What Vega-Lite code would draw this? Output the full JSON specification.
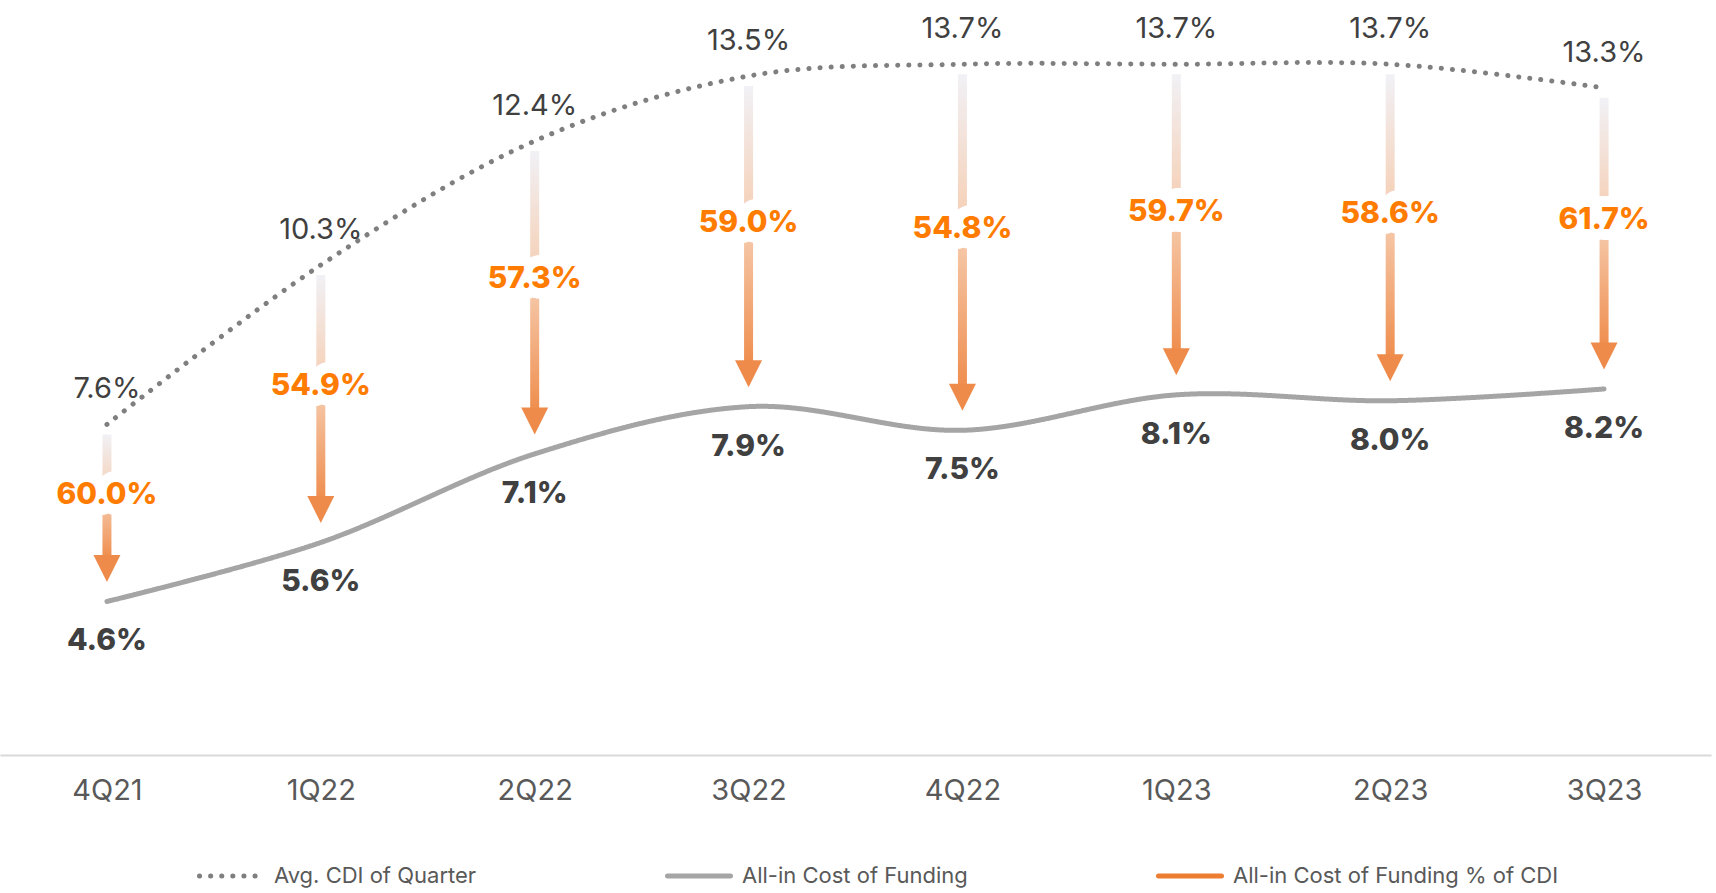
{
  "$schema": "https://vega.github.io/schema/vega-lite/v6.json",
  "width": 1711,
  "height": 738,
  "autosize": {"type": "none"},
  "padding": {"left": 0, "top": 17, "right": 5, "bottom": 138},
  "background": "white",
  "config": {"view": {"stroke": null}, "font": "Inter"},
  "data": {
    "values": [
      {"q": "4Q21", "cdi": 0.076, "cost": 0.046, "pct": 0.600},
      {"q": "1Q22", "cdi": 0.103, "cost": 0.056, "pct": 0.549},
      {"q": "2Q22", "cdi": 0.124, "cost": 0.071, "pct": 0.573},
      {"q": "3Q22", "cdi": 0.135, "cost": 0.079, "pct": 0.590},
      {"q": "4Q22", "cdi": 0.137, "cost": 0.075, "pct": 0.548},
      {"q": "1Q23", "cdi": 0.137, "cost": 0.081, "pct": 0.597},
      {"q": "2Q23", "cdi": 0.137, "cost": 0.080, "pct": 0.586},
      {"q": "3Q23", "cdi": 0.133, "cost": 0.082, "pct": 0.617}
    ]
  },
  "encoding": {
    "x": {
      "field": "q", "type": "ordinal", "sort": null,
      "scale": {"type": "point", "padding": 0.5},
      "axis": {
        "title": null, "labelAngle": 0, "ticks": false, "grid": false,
        "domainColor": "#D9D9D9", "domainWidth": 2,
        "labelFont": "Inter", "labelFontSize": 29, "labelColor": "#595959",
        "labelBaseline": "middle", "labelPadding": 35
      }
    }
  },
  "layer": [
    {
      "transform": [{"fold": ["cdi", "cost"], "as": ["k", "v"]}],
      "mark": {"type": "line", "interpolate": "cardinal", "strokeWidth": 5, "strokeCap": "round"},
      "encoding": {
        "y": {"field": "v", "type": "quantitative", "scale": {"domain": [0.02, 0.145], "nice": false, "zero": false}, "axis": null},
        "color": {
          "field": "k", "type": "nominal",
          "scale": {"domain": ["cdi", "cost", "pct"], "range": ["#7F7F7F", "#A5A5A5", "#ED7D31"]},
          "legend": {
            "orient": "none", "legendX": 197, "legendY": 825, "direction": "horizontal",
            "title": null, "symbolType": "stroke", "symbolSize": 3969, "symbolStrokeWidth": 5,
            "labelFont": "Inter", "labelFontSize": 22, "labelColor": "#595959", "labelLimit": 0,
            "labelOffset": 9, "columnPadding": 180, "padding": 0,
            "labelExpr": "datum.value == 'cdi' ? 'Avg. CDI of Quarter' : datum.value == 'cost' ? 'All-in Cost of Funding' : 'All-in Cost of Funding % of CDI'",
            "encode": {"symbols": {"update": {"strokeCap": {"value": "round"}}}}
          }
        },
        "strokeDash": {
          "field": "k", "type": "nominal",
          "scale": {"domain": ["cdi", "cost", "pct"], "range": [[0.1, 11], [1, 0], [1, 0]]},
          "legend": {
            "orient": "none", "legendX": 197, "legendY": 825, "direction": "horizontal",
            "title": null, "symbolType": "stroke", "symbolSize": 3969, "symbolStrokeWidth": 5,
            "labelFont": "Inter", "labelFontSize": 22, "labelColor": "#595959", "labelLimit": 0,
            "labelOffset": 9, "columnPadding": 180, "padding": 0,
            "labelExpr": "datum.value == 'cdi' ? 'Avg. CDI of Quarter' : datum.value == 'cost' ? 'All-in Cost of Funding' : 'All-in Cost of Funding % of CDI'",
            "encode": {"symbols": {"update": {"strokeCap": {"value": "round"}}}}
          }
        }
      }
    },
    {
      "mark": {
        "type": "bar", "width": 9, "yOffset": 10, "y2Offset": -44,
        "color": {
          "gradient": "linear", "x1": 0, "y1": 0, "x2": 0, "y2": 1,
          "stops": [
            {"offset": 0, "color": "#F1F1F6"},
            {"offset": 0.5, "color": "#F6CDB0"},
            {"offset": 1, "color": "#EF8E4F"}
          ]
        }
      },
      "encoding": {
        "y": {"field": "cdi", "type": "quantitative", "scale": {"domain": [0.02, 0.145], "nice": false, "zero": false}, "axis": null},
        "y2": {"field": "cost"}
      }
    },
    {
      "mark": {"type": "point", "shape": "M-1,-1L1,-1L0,1Z", "size": 729, "filled": true, "color": "#EE8B4A", "opacity": 1, "strokeWidth": 0, "yOffset": -33},
      "encoding": {
        "y": {"field": "cost", "type": "quantitative", "scale": {"domain": [0.02, 0.145], "nice": false, "zero": false}, "axis": null}
      }
    },
    {
      "mark": {"type": "text", "font": "Inter", "fontSize": 29, "fontWeight": 400, "color": "#404040", "baseline": "middle", "yOffset": -35},
      "encoding": {
        "y": {"field": "cdi", "type": "quantitative", "scale": {"domain": [0.02, 0.145], "nice": false, "zero": false}, "axis": null},
        "text": {"field": "cdi", "type": "quantitative", "format": ".1%"}
      }
    },
    {
      "mark": {"type": "text", "font": "Inter", "fontSize": 30, "fontWeight": 800, "color": "#404040", "baseline": "middle", "yOffset": 40},
      "encoding": {
        "y": {"field": "cost", "type": "quantitative", "scale": {"domain": [0.02, 0.145], "nice": false, "zero": false}, "axis": null},
        "text": {"field": "cost", "type": "quantitative", "format": ".1%"}
      }
    },
    {
      "transform": [{"fold": ["cdi", "cost"], "as": ["k", "v"]}],
      "mark": {"type": "text", "font": "Inter", "fontSize": 30, "fontWeight": 800, "fill": "white", "stroke": "white", "strokeWidth": 22, "strokeJoin": "round", "baseline": "middle", "yOffset": -18},
      "encoding": {
        "y": {"field": "v", "aggregate": "mean", "type": "quantitative", "scale": {"domain": [0.02, 0.145], "nice": false, "zero": false}, "axis": null},
        "text": {"field": "pct", "type": "quantitative", "format": ".1%"}
      }
    },
    {
      "transform": [{"fold": ["cdi", "cost"], "as": ["k", "v"]}],
      "mark": {"type": "text", "font": "Inter", "fontSize": 30, "fontWeight": 800, "color": "#FF7C00", "baseline": "middle", "yOffset": -18},
      "encoding": {
        "y": {"field": "v", "aggregate": "mean", "type": "quantitative", "scale": {"domain": [0.02, 0.145], "nice": false, "zero": false}, "axis": null},
        "text": {"field": "pct", "type": "quantitative", "format": ".1%"}
      }
    }
  ]
}
